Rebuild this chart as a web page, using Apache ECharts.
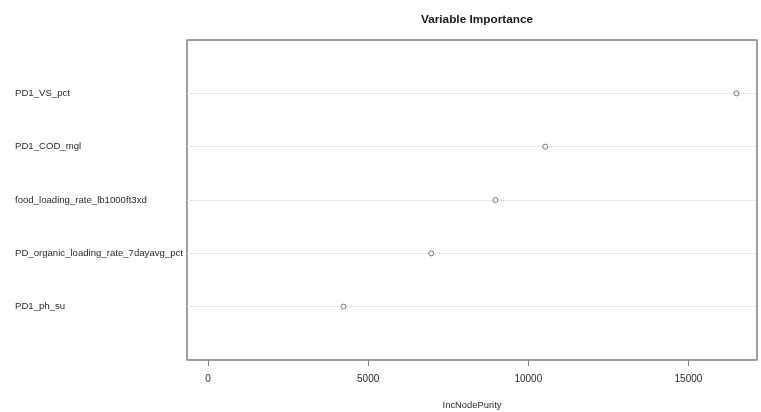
<!DOCTYPE html>
<html>
<head>
<meta charset="utf-8">
<script src="https://cdn.jsdelivr.net/npm/echarts@6/dist/echarts.min.js"></script>
<style>
  html, body { margin: 0; padding: 0; background: #fff; }
  #chart { width: 761px; height: 412px; }
</style>
</head>
<body>
<div id="chart"></div>
<script>
// variables, top to bottom
const varNames = [
  'PD1_VS_pct',
  'PD1_COD_mgl',
  'food_loading_rate_lb1000ft3xd',
  'PD_organic_loading_rate_7dayavg_pct',
  'PD1_ph_su'
];
// IncNodePurity
const purity = [16500, 10530, 8970, 6970, 4230];
// x axis tick labels
const xTicks = [0, 5000, 10000, 15000];

const chart = echarts.init(document.getElementById('chart'));

// row 1 at top, row 5 at bottom
const points = purity.map((v, i) => [v, i + 1]);

const textColor = '#2a2a2a';
const font = 'Liberation Sans, Arial, sans-serif';

chart.setOption({
  animation: false,
  title: {
    text: 'Variable Importance',
    left: 472,
    top: 9,
    textAlign: 'center',
    textStyle: { fontFamily: font, fontSize: 11.8, fontWeight: 'bold', color: '#1a1a1a' }
  },
  grid: {
    left: 187, top: 40, width: 570, height: 320,
    outerBoundsMode: 'none',
    containLabel: false,
    show: true,
    borderColor: '#808080',
    borderWidth: 1.5,
    backgroundColor: 'transparent'
  },
  xAxis: {
    type: 'value',
    position: 'bottom',
    min: -655,
    max: 17140,
    name: 'IncNodePurity',
    nameLocation: 'middle',
    nameGap: 41,
    nameTextStyle: { fontFamily: font, fontSize: 9.4, color: textColor },
    axisLine: { show: false, onZero: false },
    axisTick: {
      show: true,
      customValues: xTicks,
      length: 6,
      lineStyle: { color: '#808080' }
    },
    axisLabel: {
      customValues: xTicks,
      margin: 14,
      fontFamily: font,
      fontSize: 10,
      color: textColor,
      formatter: (v) => String(v)
    },
    splitLine: { show: false }
  },
  yAxis: {
    type: 'value',
    min: 0,
    max: 6,
    interval: 1,
    inverse: true,
    axisLine: { show: false },
    axisTick: { show: false },
    axisLabel: {
      align: 'left',
      margin: 172,
      fontFamily: font,
      fontSize: 9.6,
      color: textColor,
      formatter: (v) => varNames[v - 1] || ''
    },
    splitLine: {
      show: true,
      showMinLine: false,
      showMaxLine: false,
      lineStyle: { color: '#d0d0d0', type: 'dotted', width: 1 }
    }
  },
  series: [
    {
      type: 'scatter',
      data: points,
      symbol: 'circle',
      symbolSize: 5,
      itemStyle: { color: '#fff', borderColor: '#555', borderWidth: 1 }
    }
  ]
});
</script>
</body>
</html>
